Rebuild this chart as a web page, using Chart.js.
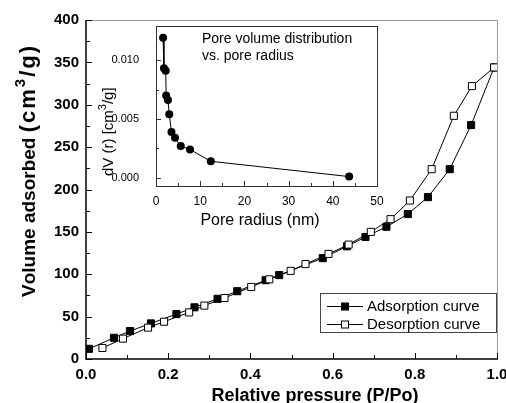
<!DOCTYPE html>
<html>
<head>
<meta charset="utf-8">
<script src="https://cdn.jsdelivr.net/npm/chart.js@4.4.0/dist/chart.umd.min.js"></script>
<style>
html, body { margin: 0; padding: 0; background: #fff; }
#wrap { position: relative; width: 506px; height: 403px; overflow: hidden; }
#main { position: absolute; left: 0; top: 0; }
#inset { position: absolute; left: 95px; top: 10px; }
</style>
</head>
<body>
<div id="wrap">
  <canvas id="main" width="506" height="403"></canvas>
  <canvas id="inset" width="290" height="220"></canvas>
</div>
<script>
// isotherm (main plot)
const adsP = [0.007, 0.068, 0.107, 0.158, 0.22, 0.264, 0.32, 0.368, 0.437, 0.47, 0.576, 0.635, 0.68, 0.731, 0.783, 0.832, 0.885, 0.937, 0.993];
const adsV = [12, 25, 33, 42, 53, 61, 71, 80, 93, 99, 119, 133, 144, 156, 171, 191, 224, 276, 344];
const desP = [0.04, 0.09, 0.151, 0.19, 0.251, 0.288, 0.337, 0.402, 0.446, 0.498, 0.534, 0.59, 0.639, 0.693, 0.741, 0.788, 0.841, 0.895, 0.939, 0.993];
const desV = [13, 24, 37, 44, 55, 63, 72, 85, 94, 104, 112, 124, 135, 150, 165, 187, 224, 287, 322, 344];
const mainXTicks = [0, 0.2, 0.4, 0.6, 0.8, 1.0];
const mainYTicks = [0, 50, 100, 150, 200, 250, 300, 350, 400];

// pore volume distribution (inset)
const poreR = [1.6, 1.8, 2.2, 2.3, 2.7, 3.0, 3.5, 4.3, 5.6, 7.7, 12.4, 43.7];
const poreDV = [0.0119, 0.0093, 0.0091, 0.0070, 0.0066, 0.0054, 0.0039, 0.0034, 0.0027, 0.0024, 0.0014, 0.0001];
const insetXTicks = [0, 10, 20, 30, 40, 50];
const insetYTicks = [0, 0.005, 0.010];

const FONT = "'Liberation Sans', Arial, sans-serif";

function pts(xs, ys) {
  return xs.map((x, i) => ({ x: x, y: ys[i] }));
}

function setTicks(list) {
  return function (scale) {
    scale.ticks = list.map(v => ({ value: v }));
  };
}

// inward ticks, major + minor halfway
function drawTicks(ctx, scale, list, area, isX, majorLen, minorLen) {
  const vals = [];
  list.forEach((v, i) => {
    vals.push([v, majorLen]);
    if (i < list.length - 1) vals.push([(v + list[i + 1]) / 2, minorLen]);
  });
  ctx.beginPath();
  vals.forEach(([v, len]) => {
    const p = Math.round(scale.getPixelForValue(v)) + 0.5;
    if (isX) {
      ctx.moveTo(p, area.bottom);
      ctx.lineTo(p, area.bottom - len);
    } else {
      ctx.moveTo(area.left, p);
      ctx.lineTo(area.left + len, p);
    }
  });
  ctx.stroke();
}

// rotated text made of runs {t, size, dy, sp}, starting at (x, startY) going up
function vertRuns(ctx, runs, x, startY, weight) {
  ctx.save();
  ctx.translate(x, startY);
  ctx.rotate(-Math.PI / 2);
  ctx.textAlign = 'left';
  ctx.textBaseline = 'alphabetic';
  let pos = 0;
  runs.forEach(r => {
    ctx.font = weight + ' ' + r.size + 'px ' + FONT;
    const sp = r.sp || 0;
    for (const ch of r.t) {
      ctx.fillText(ch, pos, r.dy || 0);
      pos += ctx.measureText(ch).width + sp;
    }
  });
  ctx.restore();
}

function legendMarker(ctx, x, y, fill) {
  ctx.beginPath();
  ctx.moveTo(x - 18, y + 0.5);
  ctx.lineTo(x + 18, y + 0.5);
  ctx.strokeStyle = '#000';
  ctx.lineWidth = 1;
  ctx.stroke();
  ctx.fillStyle = fill;
  ctx.fillRect(x - 3.5, y - 3, 7, 7);
  ctx.strokeRect(x - 3.5, y - 3, 7, 7);
}

const mainDeco = {
  id: 'mainDeco',
  afterDraw(chart) {
    const ctx = chart.ctx;
    const a = chart.chartArea;
    ctx.save();
    // grey top/right frame
    ctx.strokeStyle = '#9a9a9a';
    ctx.lineWidth = 1;
    ctx.beginPath();
    ctx.moveTo(a.left, a.top + 0.5);
    ctx.lineTo(a.right + 0.5, a.top + 0.5);
    ctx.lineTo(a.right + 0.5, a.bottom);
    ctx.stroke();
    // black axes
    ctx.strokeStyle = '#000';
    ctx.lineWidth = 1.5;
    ctx.beginPath();
    ctx.moveTo(a.left, a.top);
    ctx.lineTo(a.left, a.bottom);
    ctx.lineTo(a.right + 1, a.bottom);
    ctx.stroke();
    ctx.lineWidth = 1;
    drawTicks(ctx, chart.scales.x, mainXTicks, a, true, 6, 4);
    drawTicks(ctx, chart.scales.y, mainYTicks, a, false, 6, 4);

    // axis titles
    ctx.fillStyle = '#000';
    ctx.font = 'bold 18px ' + FONT;
    ctx.textAlign = 'center';
    ctx.textBaseline = 'alphabetic';
    ctx.fillText('Relative pressure (P/Po)', 315, 401);
    vertRuns(ctx, [
      { t: 'Volume adsorbed ', size: 19 },
      { t: '(cm', size: 22, sp: 2 },
      { t: '3', size: 15, dy: -10, sp: 2 },
      { t: '/g)', size: 22, sp: 2 }
    ], 35, 297, 'bold');

    // legend box
    const lx = 320, ly = 293, lw = 176, lh = 39;
    ctx.fillStyle = '#fff';
    ctx.fillRect(lx, ly, lw, lh);
    ctx.strokeStyle = '#444';
    ctx.lineWidth = 1;
    ctx.strokeRect(lx + 0.5, ly + 0.5, lw, lh);
    chart.data.datasets.forEach((ds, i) => {
      const y = 306 + i * 18;
      legendMarker(ctx, 345, y, ds.pointBackgroundColor);
      ctx.fillStyle = '#000';
      ctx.font = '15px ' + FONT;
      ctx.textAlign = 'left';
      ctx.textBaseline = 'middle';
      ctx.fillText(ds.label, 367, y + 1);
    });
    ctx.restore();
  }
};

new Chart(document.getElementById('main'), {
  type: 'line',
  data: {
    datasets: [{
      label: 'Adsorption curve',
      data: pts(adsP, adsV),
      borderColor: '#000',
      borderWidth: 1,
      pointStyle: 'rect',
      pointRadius: 5,
      pointBackgroundColor: '#000',
      pointBorderColor: '#000',
      pointBorderWidth: 1,
      order: 1
    }, {
      label: 'Desorption curve',
      data: pts(desP, desV),
      borderColor: '#000',
      borderWidth: 1,
      pointStyle: 'rect',
      pointRadius: 5,
      pointBackgroundColor: '#fff',
      pointBorderColor: '#000',
      pointBorderWidth: 1,
      order: 0
    }]
  },
  options: {
    responsive: false,
    animation: false,
    layout: { padding: { top: 20, right: 9, left: 0, bottom: 0 } },
    plugins: { legend: { display: false }, tooltip: { enabled: false } },
    scales: {
      x: {
        type: 'linear',
        min: 0,
        max: 1,
        afterBuildTicks: setTicks(mainXTicks),
        afterFit: s => { s.height = 44; s.paddingLeft = 0; s.paddingRight = 0; },
        grid: { display: false, drawTicks: false },
        border: { display: false },
        ticks: {
          color: '#000',
          padding: 7,
          maxRotation: 0,
          autoSkip: false,
          font: { family: FONT, weight: 'bold', size: 15 },
          callback: v => v.toFixed(1)
        }
      },
      y: {
        min: 0,
        max: 400,
        afterBuildTicks: setTicks(mainYTicks),
        afterFit: s => { s.width = 86; s.paddingTop = 0; s.paddingBottom = 0; },
        grid: { display: false, drawTicks: false },
        border: { display: false },
        ticks: {
          color: '#000',
          padding: 7,
          autoSkip: false,
          font: { family: FONT, weight: 'bold', size: 15 }
        }
      }
    }
  },
  plugins: [mainDeco]
});

const insetDeco = {
  id: 'insetDeco',
  afterDraw(chart) {
    const ctx = chart.ctx;
    const a = chart.chartArea;
    ctx.save();
    ctx.strokeStyle = '#333';
    ctx.lineWidth = 1;
    ctx.strokeRect(a.left + 0.5, a.top + 0.5, a.right - a.left, a.bottom - a.top);
    drawTicks(ctx, chart.scales.x, insetXTicks, a, true, 5, 3);
    drawTicks(ctx, chart.scales.y, insetYTicks, a, false, 5, 3);

    ctx.fillStyle = '#000';
    ctx.font = '16px ' + FONT;
    ctx.textAlign = 'center';
    ctx.textBaseline = 'alphabetic';
    ctx.fillText('Pore radius (nm)', 165, 215);
    vertRuns(ctx, [
      { t: 'dV (r) [cm', size: 15 },
      { t: '3', size: 11, dy: -7 },
      { t: '/g]', size: 15 }
    ], 18, 166, 'normal');

    ctx.font = '14px ' + FONT;
    ctx.textAlign = 'left';
    ctx.fillText('Pore volume distribution', 107, 33);
    ctx.fillText('vs. pore radius', 107, 50);
    ctx.restore();
  }
};

new Chart(document.getElementById('inset'), {
  type: 'line',
  data: {
    datasets: [{
      label: 'dV (r)',
      data: pts(poreR, poreDV),
      borderColor: '#000',
      borderWidth: 1,
      pointStyle: 'circle',
      pointRadius: 4,
      pointBackgroundColor: '#000',
      pointBorderColor: '#000',
      pointBorderWidth: 0
    }]
  },
  options: {
    responsive: false,
    animation: false,
    layout: { padding: { top: 16, right: 8, left: 0, bottom: 0 } },
    plugins: { legend: { display: false }, tooltip: { enabled: false } },
    scales: {
      x: {
        type: 'linear',
        min: 0,
        max: 50,
        afterBuildTicks: setTicks(insetXTicks),
        afterFit: s => { s.height = 44; s.paddingLeft = 0; s.paddingRight = 0; },
        grid: { display: false, drawTicks: false },
        border: { display: false },
        ticks: {
          color: '#000',
          padding: 8,
          maxRotation: 0,
          autoSkip: false,
          font: { family: FONT, size: 12 }
        }
      },
      y: {
        min: -0.0007,
        max: 0.0129,
        afterBuildTicks: setTicks(insetYTicks),
        afterFit: s => { s.width = 61; s.paddingTop = 0; s.paddingBottom = 0; },
        grid: { display: false, drawTicks: false },
        border: { display: false },
        ticks: {
          color: '#000',
          padding: 17,
          autoSkip: false,
          font: { family: FONT, size: 11 },
          callback: v => v.toFixed(3)
        }
      }
    }
  },
  plugins: [insetDeco]
});
</script>
</body>
</html>
